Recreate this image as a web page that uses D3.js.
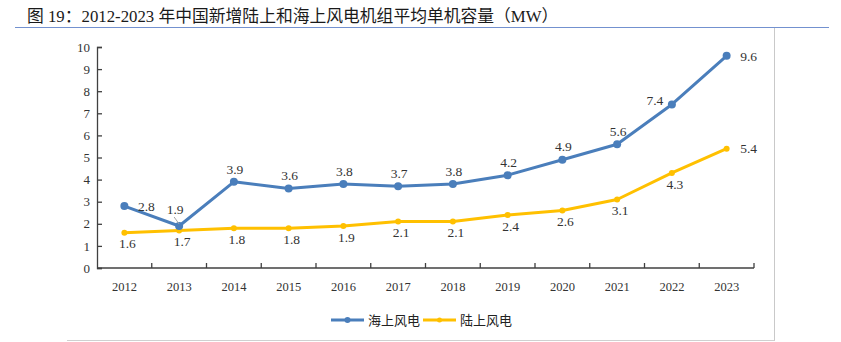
<!DOCTYPE html>
<html>
<head>
<meta charset="utf-8">
<script src="https://cdn.jsdelivr.net/npm/d3@7"></script>
<style>
  body { margin: 0; background: #fff; }
  svg { display: block; }
</style>
</head>
<body>
<div id="chart"></div>
<script>
// years on the x axis
var years = ["2012", "2013", "2014", "2015", "2016", "2017", "2018", "2019", "2020", "2021", "2022", "2023"];
// average unit capacity, MW
var offshore = [2.8, 1.9, 3.9, 3.6, 3.8, 3.7, 3.8, 4.2, 4.9, 5.6, 7.4, 9.6];
var onshore = [1.6, 1.7, 1.8, 1.8, 1.9, 2.1, 2.1, 2.4, 2.6, 3.1, 4.3, 5.4];
var yTicks = [0, 1, 2, 3, 4, 5, 6, 7, 8, 9, 10];
var seriesNames = ["海上风电", "陆上风电"];

// where each value label sits relative to its point
var offshoreLabelPos = ["right", "aboveLeft", "above", "above", "above", "above", "above", "above", "above", "above", "left", "right"];
var onshoreLabelPos = ["below", "below", "below", "below", "below", "below", "below", "below", "below", "below", "below", "right"];

var width = 841, height = 342;
var serif = "'Liberation Serif', 'Times New Roman', serif";
var cjk = "'Noto Sans CJK SC', sans-serif";
var blue = "#4a7ebb", gold = "#ffc000";

var svg = d3.select("#chart").append("svg")
    .attr("width", width)
    .attr("height", height);

// title and rule under it
svg.append("text")
    .attr("x", 27)
    .attr("y", 22)
    .attr("fill", "#1a1a1a")
    .style("font-family", serif + ", " + cjk)
    .style("font-size", "16.8px")
    .text("图 19：2012-2023 年中国新增陆上和海上风电机组平均单机容量（MW）");

svg.append("line")
    .attr("x1", 15).attr("x2", 829)
    .attr("y1", 27.5).attr("y2", 27.5)
    .attr("stroke", "#7391cf")
    .attr("stroke-width", 1.2);

// grey frame lines on the right and bottom
svg.append("line")
    .attr("x1", 774.5).attr("x2", 774.5)
    .attr("y1", 28).attr("y2", 341)
    .attr("stroke", "#c9c9c9");
svg.append("line")
    .attr("x1", 67).attr("x2", 774.5)
    .attr("y1", 340.5).attr("y2", 340.5)
    .attr("stroke", "#d0d0d0");

var plotLeft = 97, plotRight = 754, plotTop = 47, plotBottom = 268;

var x = d3.scaleBand()
    .domain(years)
    .range([plotLeft, plotRight]);

var y = d3.scaleLinear()
    .domain([0, 10])
    .range([plotBottom, plotTop]);

// y axis with inward ticks
var yAxis = svg.append("g")
    .attr("transform", "translate(" + plotLeft + ",0)")
    .call(d3.axisRight(y).tickValues(yTicks).tickSize(5).tickFormat(d3.format("d")));
yAxis.select(".domain").attr("stroke", "#404040").attr("stroke-width", 1.3);
yAxis.selectAll(".tick line").attr("stroke", "#404040").attr("stroke-width", 1.3);
yAxis.selectAll(".tick text")
    .attr("x", -7)
    .attr("text-anchor", "end")
    .attr("fill", "#333")
    .style("font-family", serif)
    .style("font-size", "13px");

// x axis: ticks sit on the category boundaries and point up
var xAxis = svg.append("g")
    .attr("transform", "translate(0," + plotBottom + ")");
xAxis.append("line")
    .attr("x1", plotLeft).attr("x2", plotRight)
    .attr("stroke", "#404040").attr("stroke-width", 1.3);
xAxis.selectAll(".xtick")
    .data(years)
    .enter().append("line")
    .attr("x1", function(d){ return x(d) + x.bandwidth(); })
    .attr("x2", function(d){ return x(d) + x.bandwidth(); })
    .attr("y1", 0).attr("y2", -5)
    .attr("stroke", "#404040").attr("stroke-width", 1.3);
xAxis.selectAll(".xlabel")
    .data(years)
    .enter().append("text")
    .attr("x", function(d){ return x(d) + x.bandwidth() / 2; })
    .attr("y", 23)
    .attr("text-anchor", "middle")
    .attr("fill", "#333")
    .style("font-family", serif)
    .style("font-size", "12.5px")
    .text(function(d){ return d; });

var cx = function(d, i){ return x(years[i]) + x.bandwidth() / 2; };

var line = d3.line()
    .x(function(d, i){ return cx(d, i); })
    .y(function(d){ return y(d); });

function drawSeries(values, color, r){
    svg.append("path")
        .datum(values)
        .attr("d", line)
        .attr("fill", "none")
        .attr("stroke", color)
        .attr("stroke-width", 3)
        .attr("stroke-linejoin", "round");
    svg.selectAll(null)
        .data(values)
        .enter().append("circle")
        .attr("cx", cx)
        .attr("cy", function(d){ return y(d); })
        .attr("r", r)
        .attr("fill", color);
}

drawSeries(onshore, gold, 3);
drawSeries(offshore, blue, 4);

// small leader for the crowded 2013 label
svg.append("line")
    .attr("x1", cx(offshore[1], 1) - 5).attr("y1", y(offshore[1]) - 9)
    .attr("x2", cx(offshore[1], 1)).attr("y2", y(offshore[1]) - 2)
    .attr("stroke", "#a6a6a6").attr("stroke-width", 1);

var offsets = {
    right: [22, 0],
    above: [1, -13],
    aboveLeft: [-4, -17],
    left: [-17, -4],
    below: [3, 11]
};

function drawLabels(values, positions){
    svg.selectAll(null)
        .data(values)
        .enter().append("text")
        .attr("x", function(d, i){ return cx(d, i) + offsets[positions[i]][0]; })
        .attr("y", function(d, i){ return y(d) + offsets[positions[i]][1]; })
        .attr("dy", "0.35em")
        .attr("text-anchor", "middle")
        .attr("fill", "#333")
        .style("font-family", serif)
        .style("font-size", "13.5px")
        .text(function(d){ return d3.format(".1f")(d); });
}

drawLabels(offshore, offshoreLabelPos);
drawLabels(onshore, onshoreLabelPos);

// legend
var legend = svg.append("g").attr("transform", "translate(331,320)");
var legendColors = [blue, gold];
var legendX = [0, 92];
seriesNames.forEach(function(name, i){
    var g = legend.append("g").attr("transform", "translate(" + legendX[i] + ",0)");
    g.append("line")
        .attr("x1", 0).attr("x2", 33)
        .attr("stroke", legendColors[i]).attr("stroke-width", 3);
    g.append("circle")
        .attr("cx", 16.5).attr("r", i === 0 ? 3 : 2.5)
        .attr("fill", legendColors[i]);
    g.append("text")
        .attr("x", 37)
        .attr("dy", "0.35em")
        .attr("fill", "#222")
        .style("font-family", cjk)
        .style("font-size", "13px")
        .text(name);
});
</script>
</body>
</html>
